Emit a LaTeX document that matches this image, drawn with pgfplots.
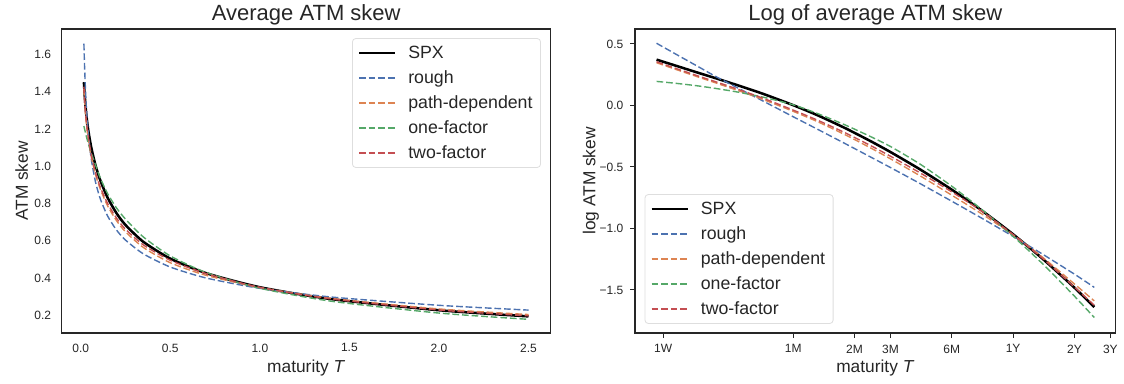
\documentclass[border=0pt]{standalone}
\usepackage{fontspec}
\setmainfont{Liberation Sans}
\usepackage{pgfplots}
\pgfplotsset{compat=1.18}
\usepackage{pgfplotstable}

\definecolor{sbblue}{HTML}{4C72B0}
\definecolor{sborange}{HTML}{DD8452}
\definecolor{sbgreen}{HTML}{55A868}
\definecolor{sbred}{HTML}{C44E52}
\definecolor{axgray}{HTML}{262626}

% log of average ATM skew
\pgfplotstableread{
T spx rough path one two
0.0178 0.372 0.505 0.347 0.195 0.355
0.022 0.324 0.419 0.294 0.180 0.302
0.028 0.269 0.322 0.235 0.160 0.243
0.035 0.219 0.232 0.181 0.137 0.190
0.045 0.161 0.138 0.119 0.107 0.129
0.06 0.091 0.031 0.045 0.065 0.055
0.0833 0.002 -0.092 -0.048 0.005 -0.038
0.11 -0.081 -0.195 -0.133 -0.067 -0.121
0.15 -0.185 -0.311 -0.239 -0.159 -0.223
0.2 -0.291 -0.420 -0.346 -0.254 -0.327
0.25 -0.379 -0.505 -0.434 -0.334 -0.413
0.35 -0.521 -0.636 -0.573 -0.478 -0.549
0.5 -0.685 -0.779 -0.730 -0.657 -0.703
0.7 -0.853 -0.916 -0.881 -0.845 -0.859
1.0 -1.048 -1.065 -1.053 -1.064 -1.050
1.4 -1.249 -1.211 -1.237 -1.290 -1.246
2.0 -1.482 -1.372 -1.452 -1.551 -1.477
2.5 -1.639 -1.479 -1.589 -1.724 -1.624
}\logskew

% average ATM skew
\pgfplotstableread{
T spx rough path one two
0.0178 1.4506 1.6570 1.4148 1.2153 1.4262
0.022 1.3827 1.5204 1.3418 1.1972 1.3526
0.028 1.3086 1.3799 1.2649 1.1735 1.2750
0.035 1.2448 1.2611 1.1984 1.1468 1.2092
0.045 1.1747 1.1480 1.1264 1.1129 1.1377
0.06 1.0953 1.0315 1.0460 1.0672 1.0565
0.0833 1.0020 0.9121 0.9531 1.0050 0.9627
0.11 0.9222 0.8228 0.8755 0.9352 0.8860
0.15 0.8311 0.7327 0.7874 0.8530 0.8001
0.2 0.7475 0.6571 0.7075 0.7757 0.7211
0.25 0.6845 0.6035 0.6479 0.7161 0.6617
0.35 0.5939 0.5294 0.5638 0.6200 0.5775
0.5 0.5041 0.4589 0.4819 0.5184 0.4951
0.7 0.4261 0.4001 0.4144 0.4296 0.4236
1.0 0.3506 0.3447 0.3489 0.3451 0.3499
1.4 0.2868 0.2979 0.2902 0.2753 0.2876
2.0 0.2272 0.2536 0.2341 0.2120 0.2283
2.5 0.1942 0.2279 0.2041 0.1784 0.1971
}\skewtab

\pgfplotsset{
  mystyle/.style={
    scale only axis,
    axis line style={axgray, line width=0.95pt},
    tick label style={font=\fontsize{9}{10}\selectfont, text=axgray},
    label style={font=\fontsize{13}{15}\selectfont, text=axgray},
    /pgf/number format/assume math mode=true,
    legend cell align=left,
    legend image code/.code={\draw[##1] (0pt,0pt) -- (27pt,0pt);},
    legend style={font=\fontsize{13.3}{15}\selectfont, text=axgray,
      draw=black!13, line width=0.6pt, rounded corners=2.5pt, fill=white,
      inner xsep=4pt, inner ysep=3.5pt, row sep=3.6pt,
      /tikz/every odd column/.append style={column sep=7pt}},
    xlabel style={anchor=center},
    ylabel style={anchor=center},
    every axis title/.style={font=\fontsize{16.5}{19}\selectfont, text=axgray,
      anchor=center, at={([yshift=10.5pt]axis description cs:0.5,1)}},
  },
  spx/.style={black, line width=1.9pt, smooth, tension=0.4},
  dsh/.style={line width=1.05pt, dash pattern=on 5pt off 2.2pt, smooth, tension=0.4,
    legend image post style={line width=1.35pt}},
}

\begin{document}
\begin{tikzpicture}
\path[use as bounding box] (0,0) rectangle (843pt,287.25pt);

\begin{axis}[mystyle,
  at={(46.3pt,37.5pt)}, anchor=south west,
  width=366.75pt, height=228pt,
  xmin=-0.106, xmax=2.624, ymin=0.105, ymax=1.736,
  xtick={0,0.5,1,1.5,2,2.5},
  xticklabels={0.0,0.5,1.0,1.5,2.0,2.5},
  ytick={0.2,0.4,0.6,0.8,1.0,1.2,1.4,1.6},
  yticklabels={0.2,0.4,0.6,0.8,1.0,1.2,1.4,1.6},
  tick style={draw=none},
  xticklabel style={yshift=-4.5pt},
  yticklabel style={xshift=-4.5pt},
  title={Average ATM skew},
  xlabel={maturity \textit{T}},
  ylabel={ATM skew},
  xlabel style={at={([yshift=-26pt]axis description cs:0.5,0)}},
  ylabel style={at={([xshift=-30pt]axis description cs:0,0.5)}},
  legend style={at={(0.98,0.97)}, anchor=north east},
]
\addplot[spx] table[x=T, y=spx] {\skewtab};
\addlegendentry{SPX}
\addplot[dsh, sbblue] table[x=T, y=rough] {\skewtab};
\addlegendentry{rough}
\addplot[dsh, sborange] table[x=T, y=path] {\skewtab};
\addlegendentry{path-dependent}
\addplot[dsh, sbgreen] table[x=T, y=one] {\skewtab};
\addlegendentry{one-factor}
\addplot[dsh, sbred] table[x=T, y=two] {\skewtab};
\addlegendentry{two-factor}
\end{axis}

\begin{axis}[mystyle,
  at={(476.25pt,37.5pt)}, anchor=south west,
  width=360.5pt, height=228pt,
  xmode=log,
  xmin=0.01395, xmax=3.184, ymin=-1.850, ymax=0.621,
  xtick={0.019178,0.083333,0.166667,0.25,0.5,1,2,3},
  xticklabels={1W,1M,2M,3M,6M,1Y,2Y,3Y},
  xminorticks=false, yminorticks=false,
  ytick={-1.5,-1.0,-0.5,0.0,0.5},
  yticklabels={−1.5,−1.0,−0.5,0.0,0.5},
  tick align=outside, tick pos=left,
  major tick length=3.75pt,
  tick style={axgray, line width=0.8pt},
  xticklabel style={yshift=-1.5pt},
  yticklabel style={xshift=-1.5pt},
  title={Log of average ATM skew},
  xlabel={maturity \textit{T}},
  ylabel={log ATM skew},
  xlabel style={at={([yshift=-26pt]axis description cs:0.5,0)}},
  ylabel style={at={([xshift=-33pt]axis description cs:0,0.5)}},
  legend style={at={(0.02,0.03)}, anchor=south west},
]
\addplot[spx] table[x=T, y=spx] {\logskew};
\addlegendentry{SPX}
\addplot[dsh, sbblue] table[x=T, y=rough] {\logskew};
\addlegendentry{rough}
\addplot[dsh, sborange] table[x=T, y=path] {\logskew};
\addlegendentry{path-dependent}
\addplot[dsh, sbgreen] table[x=T, y=one] {\logskew};
\addlegendentry{one-factor}
\addplot[dsh, sbred] table[x=T, y=two] {\logskew};
\addlegendentry{two-factor}
\end{axis}
\end{tikzpicture}
\end{document}
